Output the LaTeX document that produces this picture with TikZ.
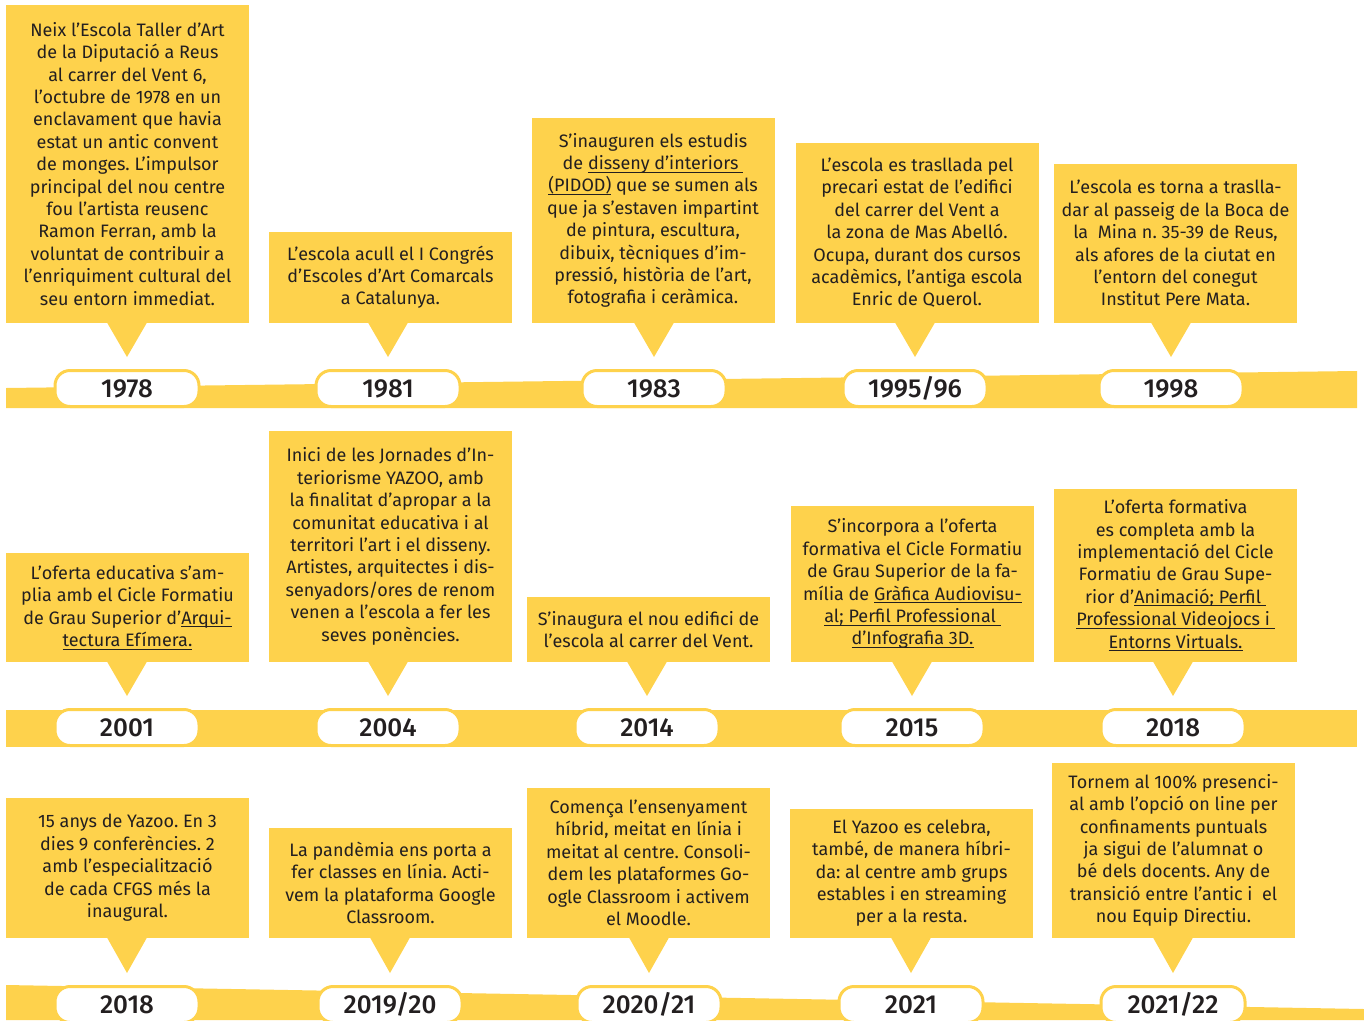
\documentclass[tikz,border=0pt]{standalone}
\usepackage{fontspec}
\setmainfont{Fira Sans}
\newfontfamily\yearface{Fira Sans Medium}
\usetikzlibrary{calc}

\definecolor{tlyellow}{RGB}{254,210,76}
\definecolor{tlink}{RGB}{35,31,32}
\newsavebox\lnkbox
\newcommand\lnk[1]{\sbox\lnkbox{#1}\rlap{\rule[-3pt]{\wd\lnkbox}{0.8pt}}\usebox\lnkbox}
\newcommand\cardfont{\fontsize{18}{22.4}\selectfont\frenchspacing}
\newcommand\yearfont{\yearface\fontsize{26}{26}\selectfont}

\tikzset{
  card/.style={fill=tlyellow, text=tlink, minimum width=243pt, anchor=south,
    align=center, inner sep=0pt, font=\cardfont},
  pill/.style={draw=tlyellow, line width=3pt, fill=white, text=tlink,
    rounded corners=15pt, minimum width=144pt, minimum height=36pt,
    inner sep=0pt, font=\yearfont}
}

\begin{document}
\begin{tikzpicture}[x=1pt,y=-1pt]
  \useasboundingbox (0,0) rectangle (1364,1020);

  % bands
  \fill[tlyellow] (6,408) -- (6,388) -- (1357,371) -- (1357,408) -- cycle;
  \fill[tlyellow] (6,710) rectangle (1357,747);
  \fill[tlyellow] (6,985) -- (1364,1009) -- (1364,1020) -- (6,1020) -- cycle;

  % first row
  \node[card, minimum height=318pt] (c1978) at (127.5,323) {Neix l’Escola Taller d’Art\\de la Diputació a Reus\\al carrer del Vent 6,\\l’octubre de 1978 en un\\enclavament que havia\\estat un antic convent\\de monges. L’impulsor\\principal del nou centre\\fou l’artista reusenc\\Ramon Ferran, amb la\\voluntat de contribuir a\\l’enriquiment cultural del\\seu entorn immediat.};
  \node[card, minimum height=91pt] (c1981) at (390.5,323) {L’escola acull el I Congrés\\d’Escoles d’Art Comarcals\\a Catalunya.};
  \node[card, minimum height=205pt] (c1983) at (653,323) {S’inauguren els estudis\\de \lnk{disseny d’interiors\ }\\\lnk{(PIDOD)} que se sumen als\\que ja s’estaven impartint\\de pintura, escultura,\\dibuix, tècniques d’im-\\pressió, història de l’art,\\fotografia i ceràmica.};
  \node[card, minimum height=180pt] (c1995) at (917,323) {L’escola es trasllada pel\\precari estat de l’edifici\\del carrer del Vent a\\la zona de Mas Abelló.\\Ocupa, durant dos cursos\\acadèmics, l’antiga escola\\Enric de Querol.};
  \node[card, minimum height=159pt] (c1998) at (1175.5,323) {L’escola es torna a traslla-\\dar al passeig de la Boca de\\la~ Mina n. 35-39 de Reus,\\als afores de la ciutat en\\l’entorn del conegut\\Institut Pere Mata.};

  \node[pill] (p1978) at (127,388.5) {1978};
  \node[pill] (p1981) at (388,388.5) {1981};
  \node[pill] (p1983) at (654,388.5) {1983};
  \node[pill] (p1995) at (915,388.5) {1995/96};
  \node[pill] (p1998) at (1171,388.5) {1998};

  % second row
  \node[card, minimum height=109pt] (c2001) at (127.5,662) {L’oferta educativa s’am-\\plia amb el Cicle Formatiu\\de Grau Superior d’\lnk{Arqui-}\\\lnk{tectura Efímera.}};
  \node[card, minimum height=231pt] (c2004) at (390.5,662) {Inici de les Jornades d’In-\\teriorisme YAZOO, amb\\la finalitat d’apropar a la\\comunitat educativa i al\\territori l’art i el disseny.\\Artistes, arquitectes i dis-\\senyadors/ores de renom\\venen a l’escola a fer les\\seves ponències.};
  \node[card, minimum height=65pt] (c2014) at (648.5,662) {S’inaugura el nou edifici de\\l’escola al carrer del Vent.};
  \node[card, minimum height=156pt] (c2015) at (912.5,662) {S’incorpora a l’oferta\\formativa el Cicle Formatiu\\de Grau Superior de la fa-\\mília de \lnk{Gràfica Audiovisu-}\\\lnk{al; Perfil Professional\ }\\\lnk{d’Infografia 3D.}};
  \node[card, minimum height=173pt] (c2018a) at (1175.5,662) {L’oferta formativa\\es completa amb la\\implementació del Cicle\\Formatiu de Grau Supe-\\rior d’\lnk{Animació; Perfil\ }\\\lnk{Professional Videojocs i\ }\\\lnk{Entorns Virtuals.}};

  \node[pill] (p2001) at (127,727.5) {2001};
  \node[pill] (p2004) at (388,727.5) {2004};
  \node[pill] (p2014) at (647,727.5) {2014};
  \node[pill] (p2015) at (912,727.5) {2015};
  \node[pill] (p2018a) at (1173,727.5) {2018};

  % third row
  \node[card, minimum height=140pt] (c2018b) at (127.5,938) {15 anys de Yazoo. En 3\\dies 9 conferències. 2\\amb l’especialització\\de cada CFGS més la\\inaugural.};
  \node[card, minimum height=110pt] (c2019) at (390.5,938) {La pandèmia ens porta a\\fer classes en línia. Acti-\\vem la plataforma Google\\Classroom.};
  \node[card, minimum height=150pt] (c2020) at (648.5,938) {Comença l’ensenyament\\híbrid, meitat en línia i\\meitat al centre. Consoli-\\dem les plataformes Go-\\ogle Classroom i activem\\el Moodle.};
  \node[card, minimum height=129pt] (c2021) at (911.5,938) {El Yazoo es celebra,\\també, de manera híbri-\\da: al centre amb grups\\estables i en streaming\\per a la resta.};
  \node[card, minimum height=175pt] (c2022) at (1173.5,938) {Tornem al 100\% presenci-\\al amb l’opció on line per\\confinaments puntuals\\ja sigui de l’alumnat o\\bé dels docents. Any de\\transició entre l’antic i~ el\\nou Equip Directiu.};

  \node[pill] (p2018b) at (127,1004.5) {2018};
  \node[pill] (p2019) at (390,1004.5) {2019/20};
  \node[pill] (p2020) at (649,1004.5) {2020/21};
  \node[pill] (p2021) at (911,1004.5) {2021};
  \node[pill] (p2022) at (1173,1004.5) {2021/22};

  % pointers from the cards down to the years
  \foreach \c/\p in {c1978/p1978, c1981/p1981, c1983/p1983, c1995/p1995, c1998/p1998,
    c2001/p2001, c2004/p2004, c2014/p2014, c2015/p2015, c2018a/p2018a,
    c2018b/p2018b, c2019/p2019, c2020/p2020, c2021/p2021, c2022/p2022}
    \fill[tlyellow] ($(\c.south -| \p.north)+(-20,-0.5)$) -- ($(\c.south -| \p.north)+(20,-0.5)$)
      -- ($(\p.north)+(0,-12)$) -- cycle;
\end{tikzpicture}
\end{document}
